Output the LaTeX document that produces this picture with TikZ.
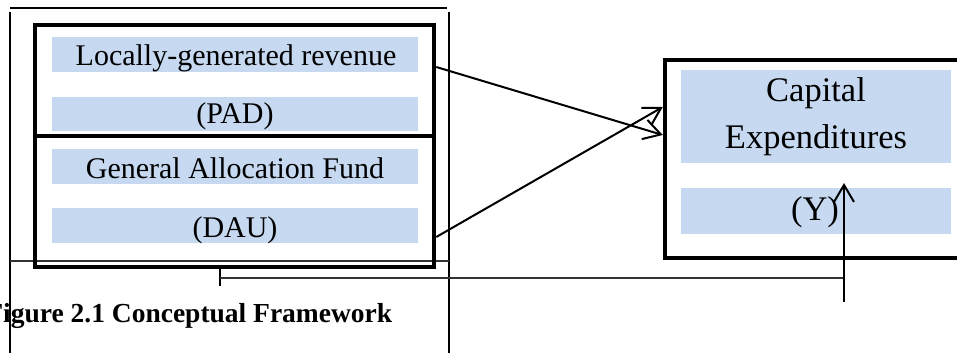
\documentclass[tikz,border=0pt]{standalone}
\usepackage{fontspec}
\setmainfont{Liberation Serif}
\usetikzlibrary{arrows.meta,calc}
\definecolor{barblue}{HTML}{C6D9F0}
\begin{document}
\begin{tikzpicture}[x=1pt,y=-1pt,
  frame/.style={line width=2pt},
  thinline/.style={line width=1.4pt, black!80},
  bigbox/.style={draw, line width=4.5pt, inner sep=0pt},
  bar/.style={fill=barblue, inner sep=0pt},
  lbl/.style={inner sep=0pt, anchor=base, font=\fontsize{30}{36}\selectfont},
  rlbl/.style={inner sep=0pt, anchor=base, font=\fontsize{34.5}{41}\selectfont},
  conn/.style={line width=2pt},
  arr/.style={line width=2pt, -{Straight Barb[length=17pt,width=20pt,line width=2pt]}},
]
\useasboundingbox (0,0) rectangle (957,353);

% outer frame
\draw[frame] (10,8) -- (447,8);
\draw[frame] (10,12) -- (10,353);
\draw[frame] (449,12) -- (449,353);
\draw[thinline] (10,261) -- (449,261);

% left boxes
\node[bigbox, minimum width=399pt, minimum height=111pt] (pad) at (234.5,80.5) {};
\node[bigbox, minimum width=399pt, minimum height=131pt] (dau) at (234.5,201.5) {};

\node[bar, minimum width=366pt, minimum height=35pt] (bar1) at (235,54.5) {};
\node[bar, minimum width=366pt, minimum height=34pt] (bar2) at (235,114) {};
\node[bar, minimum width=366pt, minimum height=35pt] (bar3) at (235,166.5) {};
\node[bar, minimum width=366pt, minimum height=35pt] (bar4) at (235,225.5) {};

\node[lbl] (t1) at (236,65) {Locally-generated revenue};
\node[lbl] (t2) at (235,123) {(PAD)};
\node[lbl] (t3) at (235,178) {General Allocation Fund};
\node[lbl] (t4) at (235,237) {(DAU)};

% right box
\node[bigbox, minimum width=310pt, minimum height=198pt] (capbox) at (820,159) {};
\node[bar, minimum width=270pt, minimum height=93pt] (capbar) at (816,116.5) {};
\node[bar, minimum width=270pt, minimum height=46pt] (ybar) at (816,211) {};
\node[rlbl] (t5) at (816,101) {Capital};
\node[rlbl] (t6) at (816,148) {Expenditures};
\node[rlbl] (t7) at (815,220) {(Y)};

% arrows
\draw[arr] ([yshift=13.5pt]pad.east) -- ([yshift=24pt]capbox.west);
\draw[arr] ([yshift=-35.5pt]dau.east) -- ([yshift=52pt]capbox.west);

% bottom connector
\coordinate (tk1) at (220,265);
\coordinate (tk2) at (220,286);
\coordinate (tkm) at (220,278);
\coordinate (elb) at (844,278);
\coordinate (vb) at (844,302);
\coordinate (vt) at (844,183);
\draw[conn] (tk1) -- (tk2);
\draw[thinline] (tkm) -- (elb);
\draw[arr] (vb) -- (vt);

% caption
\node[inner sep=0pt, anchor=base west, font=\bfseries\fontsize{27.5}{33}\selectfont] (caption) at (-13.8,322) {Figure 2.1 Conceptual Framework};
\end{tikzpicture}
\end{document}
